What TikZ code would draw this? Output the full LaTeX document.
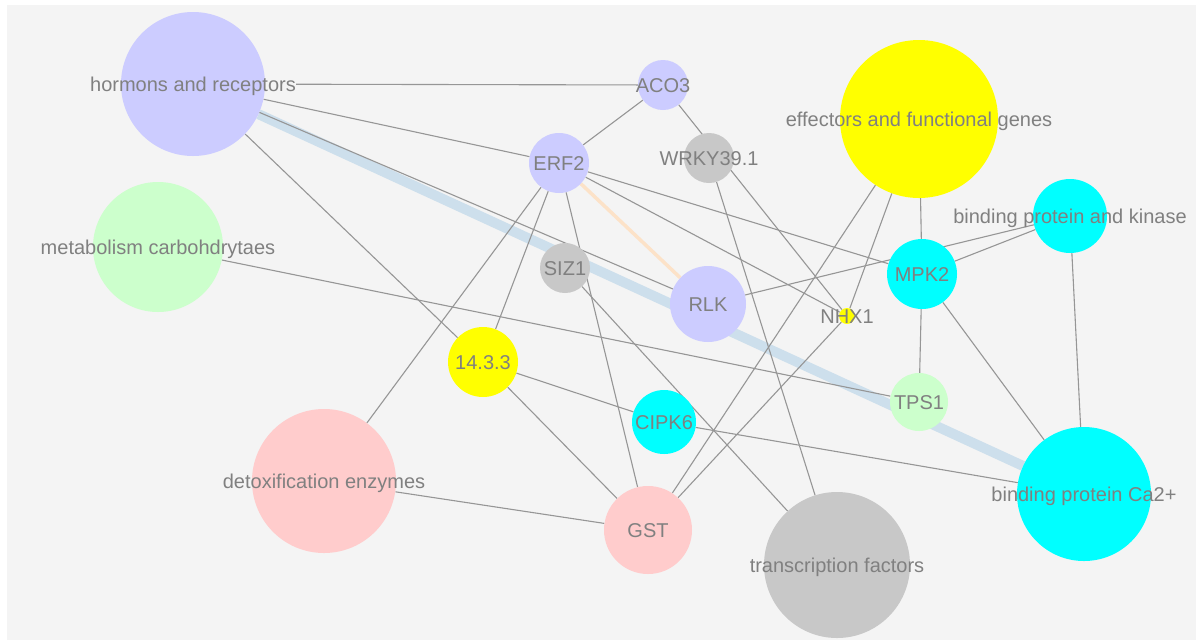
\documentclass[tikz,border=0pt]{standalone}
\usepackage{fontspec}
\setmainfont{Liberation Sans}
\usepackage{xcolor}
\usetikzlibrary{arrows,shapes,positioning}
\pgfdeclarelayer{bg}
\pgfsetlayers{bg,main}

\definecolor{paper}{RGB}{244,244,244}
\definecolor{lav}{RGB}{204,204,255}
\definecolor{mint}{RGB}{204,255,204}
\definecolor{rose}{RGB}{255,204,204}
\definecolor{ash}{RGB}{200,200,200}
\definecolor{lemon}{RGB}{255,255,0}
\definecolor{aqua}{RGB}{0,255,255}
\definecolor{edgegray}{RGB}{150,150,150}
\definecolor{txtgray}{RGB}{128,128,128}
\definecolor{band}{RGB}{205,223,236}
\definecolor{peach}{RGB}{252,226,200}

\begin{document}
\begin{tikzpicture}[x=1pt,y=-1pt,
        gene/.style={circle, inner sep=0pt, minimum size=2*#1},
        lbl/.style={inner sep=0pt, text=txtgray, font=\fontsize{20}{24}\selectfont, text height=14pt, text depth=0pt},
        link/.style={draw=edgegray, line width=1.1pt}]
        \useasboundingbox (0,0) rectangle (1198,641);

        % groups
        \node[gene=72pt, fill=lav] (horm) at (193,84) {};
        \node[gene=65pt, fill=mint] (meta) at (158,247) {};
        \node[gene=72pt, fill=rose] (detox) at (324,481) {};
        \node[gene=73pt, fill=ash] (tf) at (837,565) {};
        \node[gene=79pt, fill=lemon] (effe) at (919,119) {};
        \node[gene=37pt, fill=aqua] (kin) at (1070,216) {};
        \node[gene=67pt, fill=aqua] (ca) at (1084,494) {};

        % genes
        \node[gene=25pt, fill=lav] (aco) at (663,85) {};
        \node[gene=30pt, fill=lav] (erf) at (559,163) {};
        \node[gene=25pt, fill=ash] (wrky) at (709,158) {};
        \node[gene=25pt, fill=ash] (siz) at (565,268) {};
        \node[gene=38pt, fill=lav] (rlk) at (708,304) {};
        \node[gene=35pt, fill=lemon] (fourteen) at (483,362) {};
        \node[gene=32pt, fill=aqua] (cipk) at (664,422) {};
        \node[gene=44pt, fill=rose] (gst) at (648,530) {};
        \node[gene=35pt, fill=aqua] (mpk) at (922,274) {};
        \node[gene=8pt, fill=lemon] (nhx) at (847,316) {};
        \node[gene=29pt, fill=mint] (tps) at (919,402) {};

        % labels
        \node[lbl] (horm-t) at (horm) {hormons and receptors};
        \node[lbl] (meta-t) at (meta) {metabolism carbohdrytaes};
        \node[lbl] (detox-t) at (detox) {detoxification enzymes};
        \node[lbl] (tf-t) at (tf) {transcription factors};
        \node[lbl] (effe-t) at (effe) {effectors and functional genes};
        \node[lbl] (kin-t) at (kin) {binding protein and kinase};
        \node[lbl] (ca-t) at (ca) {binding protein Ca2+};
        \node[lbl] (aco-t) at (aco) {ACO3};
        \node[lbl] (erf-t) at (erf) {ERF2};
        \node[lbl] (wrky-t) at (wrky) {WRKY39.1};
        \node[lbl] (siz-t) at (siz) {SIZ1};
        \node[lbl] (rlk-t) at (rlk) {RLK};
        \node[lbl] (fourteen-t) at (fourteen) {14.3.3};
        \node[lbl] (cipk-t) at (cipk) {CIPK6};
        \node[lbl] (gst-t) at (gst) {GST};
        \node[lbl] (mpk-t) at (mpk) {MPK2};
        \node[lbl] (nhx-t) at (nhx) {NHX1};
        \node[lbl] (tps-t) at (tps) {TPS1};

        \begin{pgfonlayer}{bg}
        \fill[paper] (7,5) rectangle (1196,640);

        \draw[band, line width=10pt] (horm) -- (ca);
        \draw[peach, line width=3.5pt] (erf) -- (rlk);

        \draw[link] (horm-t) -- (aco);
        \draw[link] (horm) -- (erf);
        \draw[link] (horm) -- (rlk);
        \draw[link] (horm) -- (fourteen);
        \draw[link] (meta) -- (tps);
        \draw[link] (aco) -- (erf);
        \draw[link] (aco) -- (nhx);
        \draw[link] (erf) -- (mpk);
        \draw[link] (erf) -- (nhx);
        \draw[link] (erf) -- (gst);
        \draw[link] (erf) -- (fourteen);
        \draw[link] (erf) -- (detox);
        \draw[link] (wrky) -- (tf);
        \draw[link] (siz) -- (tf);
        \draw[link] (rlk) -- (kin);
        \draw[link] (effe) -- (mpk);
        \draw[link] (effe) -- (gst);
        \draw[link] (effe) -- (nhx);
        \draw[link] (nhx) -- (gst);
        \draw[link] (mpk) -- (kin);
        \draw[link] (mpk) -- (tps);
        \draw[link] (mpk) -- (ca);
        \draw[link] (kin) -- (ca);
        \draw[link] (fourteen) -- (cipk);
        \draw[link] (fourteen) -- (gst);
        \draw[link] (cipk) -- (ca);
        \draw[link] (detox) -- (gst);
        \end{pgfonlayer}
\end{tikzpicture}
\end{document}
